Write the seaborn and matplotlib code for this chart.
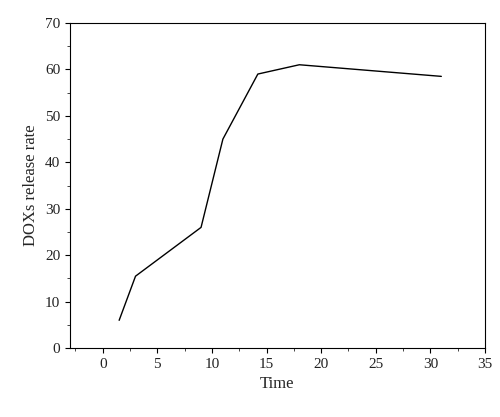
import matplotlib
matplotlib.use("Agg")
import matplotlib.pyplot as plt
import seaborn as sns
import pandas as pd
from matplotlib.ticker import MultipleLocator

# values
time = [1.5, 3.0, 9.0, 11.0, 14.2, 18.0, 31.0]
release = [6.0, 15.5, 26.0, 45.0, 59.0, 61.0, 58.5]
df = pd.DataFrame({"Time": time, "DOXs release rate": release})

sns.set_style("ticks")
plt.rcParams["font.family"] = ["Liberation Serif", "DejaVu Serif"]

fig = plt.figure(figsize=(5, 4.17), dpi=100)
ax = fig.add_axes([0.14, 0.165, 0.83, 0.78])
sns.lineplot(data=df, x="Time", y="DOXs release rate", color="black", linewidth=1, ax=ax)

ax.set_xlim(-3, 35)
ax.set_ylim(0, 70)
ax.xaxis.set_major_locator(MultipleLocator(5))
ax.yaxis.set_major_locator(MultipleLocator(10))
ax.yaxis.set_minor_locator(MultipleLocator(5))
ax.xaxis.set_minor_locator(MultipleLocator(2.5))
ax.tick_params(direction="out", labelsize=11, color="black", labelcolor="#222222")
ax.tick_params(which="minor", length=2)
for s in ax.spines.values():
    s.set_color("black")
    s.set_linewidth(0.8)
ax.set_xlabel("Time", fontsize=12)
ax.set_ylabel("DOXs release rate", fontsize=12)

fig.savefig("out.png", dpi=100)
